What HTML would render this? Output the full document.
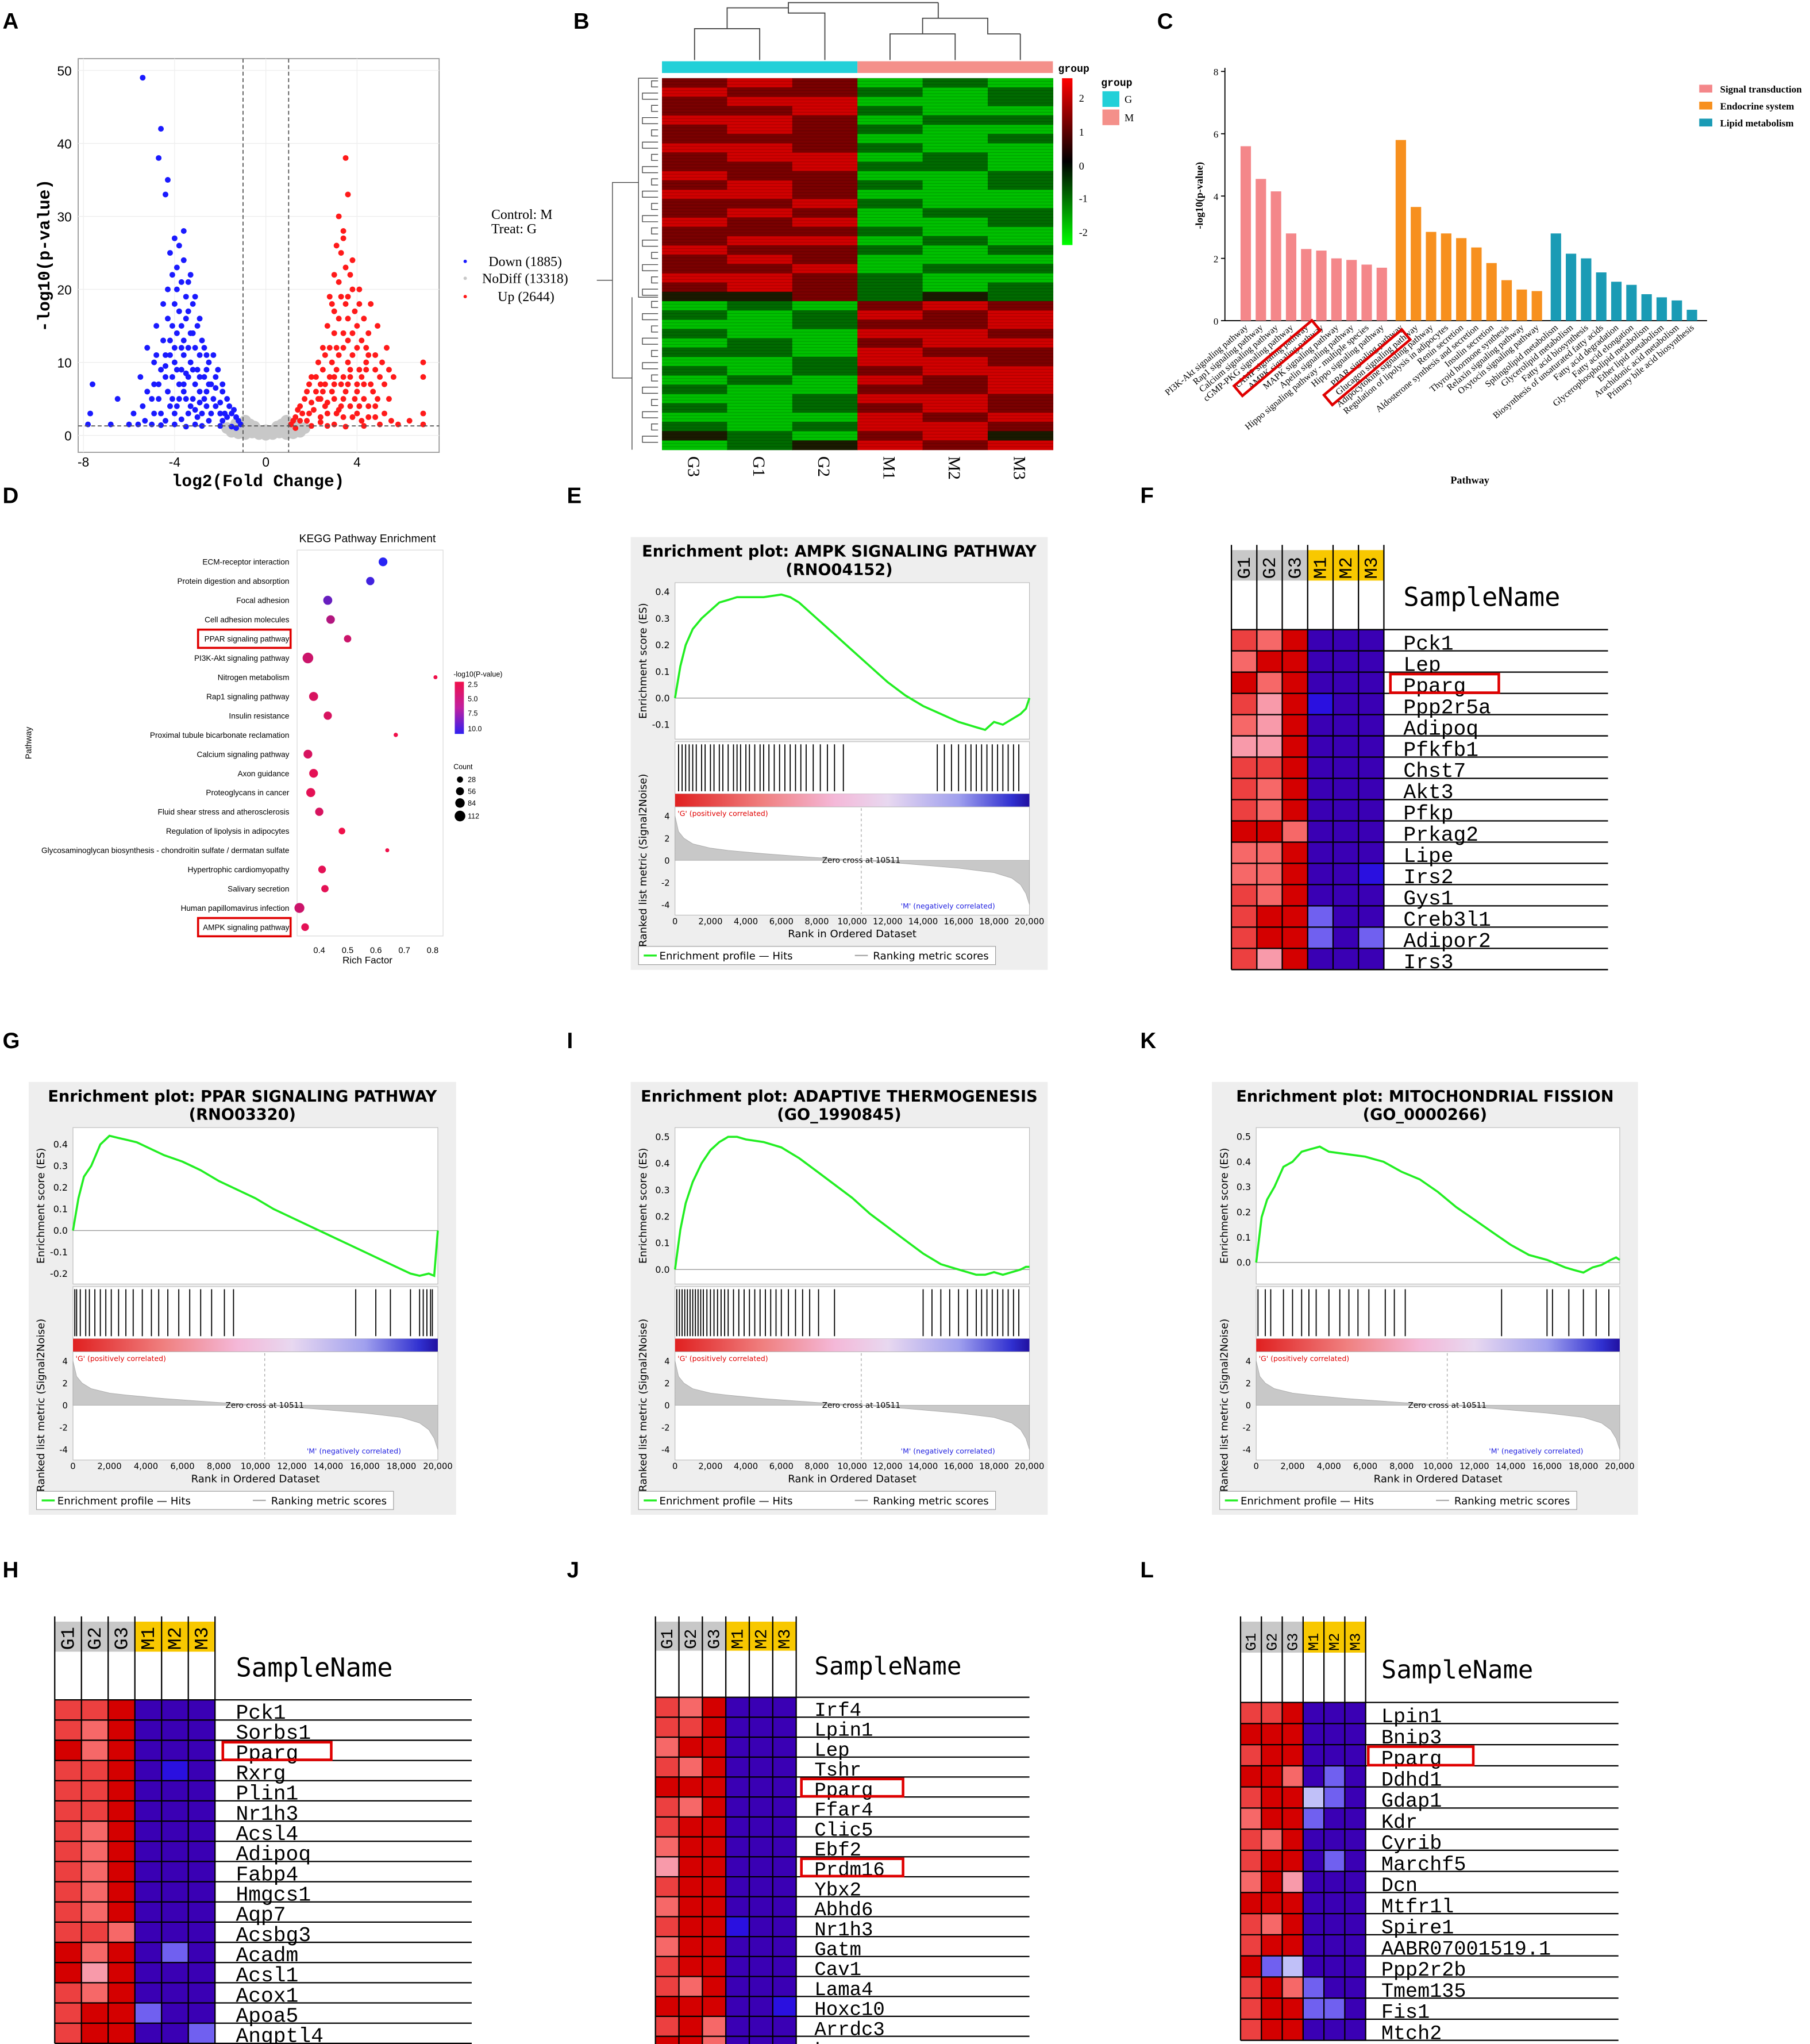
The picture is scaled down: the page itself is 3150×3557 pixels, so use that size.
<!DOCTYPE html>
<html><head><meta charset="utf-8"><title>Figure</title>
<style>html,body{margin:0;padding:0;background:#fff}svg{display:block}</style>
</head><body>
<svg id="fig" xmlns="http://www.w3.org/2000/svg" width="3150" height="3557" viewBox="0 0 1389 1568" preserveAspectRatio="none">
<defs>
<linearGradient id="gsbar" x1="0" x2="1" y1="0" y2="0">
<stop offset="0" stop-color="#e02020"/><stop offset="0.25" stop-color="#f08080"/><stop offset="0.45" stop-color="#f4b8d8"/><stop offset="0.6" stop-color="#e8d8f0"/><stop offset="0.8" stop-color="#a0a0ee"/><stop offset="0.95" stop-color="#3030d0"/><stop offset="1" stop-color="#2010a0"/></linearGradient>
<linearGradient id="hmleg" x1="0" x2="0" y1="0" y2="1"><stop offset="0" stop-color="#ff0000"/><stop offset="0.5" stop-color="#000000"/><stop offset="1" stop-color="#00ff00"/></linearGradient>
<linearGradient id="dleg" x1="0" x2="0" y1="0" y2="1"><stop offset="0" stop-color="#f0104a"/><stop offset="0.5" stop-color="#c020a0"/><stop offset="1" stop-color="#3020f0"/></linearGradient>
</defs>
</svg>
<script>
// ---------------- DATA ----------------
const volcDown=[[-5.4,49],[-4.6,42],[-4.7,38],[-4.3,35],[-4.4,33],[-4,27],[-4.2,25],[-3.8,26],[-4.1,22],[-3.6,24],[-3.4,21],[-3.9,20],[-3.2,18],[-4.5,18],[-3.5,16],[-3,15],[-4.8,15],[-2.8,13],[-3.7,12],[-4.2,13],[-5.2,12],[-2.5,10],[-3.3,10],[-4,10],[-4.6,9],[-5.5,8],[-2.2,8],[-2.9,8],[-3.6,7],[-4.3,6],[-5,5],[-1.9,6],[-2.6,6],[-3.2,5],[-3.9,4],[-4.6,3],[-5.8,3],[-1.6,4],[-2.2,4],[-2.8,3],[-3.4,3],[-1.3,2.5],[-1.9,2],[-2.5,2],[-3.1,1.5],[-4,1.5],[-1.1,1.5],[-1.5,1.2],[-6.5,5],[-7.6,7],[-7.7,3],[-7.8,1.5],[-6,1.5],[-5.3,2],[-3.5,19],[-3.8,17],[-3.1,12],[-4.4,11],[-2.6,11],[-3.3,14],[-3.9,14],[-2.4,7],[-3,9],[-3.7,9],[-2,3],[-2.7,5],[-3.5,5],[-4.2,4],[-4.9,7],[-1.7,2.5],
[-3.6,28],[-3.9,23],[-3.3,22],[-3.7,21],[-4.3,20],[-3.1,19],[-4,18],[-3.4,17],[-4.3,16],[-3.7,15],[-2.9,16],[-4.1,15],[-3.2,14],[-3.6,13],[-4.5,13],[-2.7,12],[-3.4,12],[-4,12],[-4.8,11],[-2.3,11],[-2.9,11],[-3.6,11],[-4.2,11],[-2.6,9],[-3.2,9],[-3.9,9],[-4.9,10],[-2.1,9],[-2.7,8],[-3.4,8],[-4.1,8],[-4.7,7],[-1.9,7],[-2.5,7],[-3.1,7],[-3.8,7],[-4.4,8],[-5.2,6],[-1.7,5],[-2.3,5],[-2.9,6],[-3.6,6],[-4.1,5],[-4.7,5],[-1.4,3.5],[-2,4.5],[-2.6,4],[-3.3,4],[-4,3],[-5.4,4],[-1.2,2],[-1.8,3],[-2.4,3],[-3,2.5],[-3.7,2.2],[-4.4,2],[-5,1.5],[-1.3,1],[-2,1.3],[-2.8,1.3],[-3.5,1.2],[-4.6,1.4],[-5.6,1.5],[-6.8,1.5],[-3.1,3.5],[-3.8,5],[-2.2,6.5],[-1.5,3],[-4.4,9.5],[-3.5,8.5],[-2.9,4.5],[-4.9,3]];
const volcUp=[[3.5,38],[3.2,30],[3.4,28],[3.3,25],[3.7,22],[3,22],[3.6,19],[2.9,18],[3.9,17],[4.3,16],[2.7,15],[3.4,14],[4.5,14],[4.9,15],[2.5,12],[3.1,12],[4,12],[4.8,11],[5.3,12],[2.3,10],[2.9,10],[3.6,10],[4.4,9],[5,8],[5.6,8],[2,8],[2.6,7],[3.3,7],[4,7],[4.7,6],[5.4,5],[1.8,6],[2.4,5],[3,5],[3.7,4],[4.5,4],[5.2,3],[1.5,4],[2.1,3.5],[2.7,3],[3.4,2.5],[4.2,2],[1.3,2.5],[1.8,2],[2.4,1.8],[3,1.5],[1.1,1.5],[6.9,10],[6.9,8],[6.9,3],[6.9,1.5],[6.3,2],[3.8,24],[4.1,20],[2.8,19],[4.6,18],[5.1,10],[3.2,16],[3.8,14],[2.2,6],[3,8],[3.7,8],[4.3,5],[2.6,4],[3.3,4],[4,3],[4.8,2.5],[1.6,3],
[3.6,33],[3.4,27],[3.1,26],[3.5,23],[3.2,21],[3.8,20],[3.3,19],[3.5,18],[4.1,18],[3,17],[3.6,16],[4,15],[3,14],[3.6,13],[4.2,13],[2.8,12],[3.4,12],[4.4,12],[2.6,11],[3.2,11],[3.8,11],[4.5,11],[2.5,9],[3.1,9],[3.7,9],[4.1,9],[4.8,9],[2.2,8],[2.8,8],[3.4,8],[4.2,8],[4.6,7],[1.9,7],[2.4,7],[3,7],[3.6,7],[4.3,7],[5.2,7],[1.7,5],[2.3,5],[2.9,6],[3.5,6],[4,6],[4.9,5],[1.4,3.5],[2,4.5],[2.7,4.5],[3.4,5],[4.1,4],[4.8,4],[1.2,2],[1.9,3],[2.4,2.5],[3.1,3],[3.8,2.5],[4.5,2.5],[5.5,2],[1.3,1],[2,1.3],[2.7,1.3],[3.5,1.2],[4.3,1.3],[5,1.5],[5.8,1.5],[3.2,3.5],[2.5,6],[3.9,5],[1.5,2],[4.4,10],[5.4,9]];
const volcNo=[[-1,0.6],[-0.6,0.4],[-0.3,0.2],[0,0.1],[0.3,0.2],[0.6,0.4],[1,0.6],[-0.8,1],[0.8,1],[-0.4,0.8],[0.4,0.8],[-1.2,0.3],[1.2,0.3],[-0.2,0.5],[0.2,0.5],[-0.9,0.2],[0.9,0.2],[-1.1,1.1],[1.1,1.1],[-0.7,1.5],[0.7,1.5],[-1.3,1.6],[1.3,1.6],[-0.5,1.2],[0.5,1.2],[0,0.7],[-1.5,0.5],[1.5,0.5],[-1.7,1],[1.7,1],[-0.9,2],[0.9,2]];

const hmBRows=["rRrGgG","RrrgGg","rRRGGg","rrRgGG","RRrGgg","rRrgGG","rrrGGg","RRrgGG","rRRGgG","rrRggG","RrrGGg","rRrgGg","RRrGGG","rrRgGG","rRrGgg","RrRGGg","rrrgGG","rRRGgG","RrrgGg","rRrGGG","rrRGgg","RRrgGG","rRrgGg","kkrgkg","GgGrRr","gGgRrR","GGgrrR","gGGRRr","GgGrRR","ggGRrr","GGgRRr","gGgrRR","GgGRrR","gGGrrR","GGgRRr","gGgrRr","GGGRrR","gGgRRr","kgGrRk","GgkRrR"];
const hmBCols=["G3","G1","G2","M1","M2","M3"];

const cPink=["PI3K-Akt signaling pathway","Rap1 signaling pathway","Calcium signaling pathway","cGMP-PKG signaling pathway","cAMP signaling pathway","AMPK signaling pathway","MAPK signaling pathway","Apelin signaling pathway","Hippo signaling pathway - multiple species","Hippo signaling pathway"];
const cOrange=["PPAR signaling pathway","Glucagon signaling pathway","Adipocytokine signaling pathway","Regulation of lipolysis in adipocytes","Renin secretion","Aldosterone synthesis and secretion","Insulin secretion","Thyroid hormone synthesis","Relaxin signaling pathway","Oxytocin signaling pathway"];
const cTeal=["Sphingolipid metabolism","Glycerolipid metabolism","Fatty acid biosynthesis","Biosynthesis of unsaturated fatty acids","Fatty acid degradation","Fatty acid elongation","Glycerophospholipid metabolism","Ether lipid metabolism","Arachidonic acid metabolism","Primary bile acid biosynthesis"];
const cPinkVals=[5.6,4.55,4.15,2.8,2.3,2.25,2.0,1.95,1.8,1.7];
const cOrangeVals=[5.8,3.65,2.85,2.8,2.65,2.35,1.85,1.3,1.0,0.95];
const cTealVals=[2.8,2.15,2.0,1.55,1.25,1.15,0.85,0.75,0.65,0.35];
const cTicks=[0,2,4,6,8];

const dPaths=["ECM-receptor interaction","Protein digestion and absorption","Focal adhesion","Cell adhesion molecules","PPAR signaling pathway","PI3K-Akt signaling pathway","Nitrogen metabolism","Rap1 signaling pathway","Insulin resistance","Proximal tubule bicarbonate reclamation","Calcium signaling pathway","Axon guidance","Proteoglycans in cancer","Fluid shear stress and atherosclerosis","Regulation of lipolysis in adipocytes","Glycosaminoglycan biosynthesis - chondroitin sulfate / dermatan sulfate","Hypertrophic cardiomyopathy","Salivary secretion","Human papillomavirus infection","AMPK signaling pathway"];
const dRich=[0.625,0.58,0.43,0.44,0.50,0.36,0.81,0.38,0.43,0.67,0.36,0.38,0.37,0.40,0.48,0.64,0.41,0.42,0.33,0.35];
const dLogP=[10.5,9.5,8,5,4,4,2.5,3.5,3.5,2.5,3.5,3,3,3.5,2.5,2.5,3,3,4,3];
const dCount=[70,60,75,65,45,112,8,75,60,10,70,70,75,60,35,8,50,45,95,50];
const dTicks=[0.4,0.5,0.6,0.7,0.8];

const gsRanks=[0,300,600,1000,1500,2000,2500,3000,3500,4000,5000,6000,6500,7000,8000,9000,10000,11000,12000,13000,14000,15000,16000,17000,17500,18000,18500,19000,19500,19800,20000];
const esE=[0,0.12,0.2,0.26,0.3,0.33,0.36,0.37,0.38,0.38,0.38,0.39,0.38,0.36,0.3,0.24,0.18,0.12,0.06,0.01,-0.03,-0.06,-0.09,-0.11,-0.12,-0.09,-0.1,-0.08,-0.06,-0.04,0];
const esG=[0,0.15,0.25,0.3,0.4,0.44,0.43,0.42,0.41,0.39,0.35,0.32,0.3,0.28,0.23,0.19,0.15,0.1,0.06,0.02,-0.02,-0.06,-0.1,-0.14,-0.16,-0.18,-0.2,-0.21,-0.2,-0.21,0];
const esI=[0,0.15,0.25,0.33,0.4,0.45,0.48,0.5,0.5,0.49,0.48,0.46,0.44,0.42,0.37,0.32,0.27,0.21,0.16,0.11,0.06,0.02,0,-0.02,-0.02,-0.01,-0.02,-0.01,0,0.01,0.01];
const esK=[0,0.18,0.25,0.3,0.38,0.4,0.44,0.45,0.46,0.44,0.43,0.42,0.41,0.4,0.36,0.33,0.28,0.22,0.17,0.12,0.07,0.03,0.01,-0.02,-0.03,-0.04,-0.02,-0.01,0.01,0.02,0.01];
const hitsE=[200,400,600,800,1000,1200,1500,1700,2000,2200,2500,2700,3000,3300,3500,3700,4000,4200,4500,4800,5000,5300,5600,5900,6200,6500,6800,7100,7400,7800,8200,8600,9000,9500,14800,15200,15600,16000,16400,16700,17000,17300,17600,17900,18200,18500,18800,19100,19400];
const hitsG=[100,200,400,700,900,1200,1500,1800,2100,2500,2900,3300,3800,4300,4700,5200,5800,6400,7000,7600,8300,8800,15500,16600,17400,18500,19000,19200,19400,19600,19700];
const hitsI=[100,250,400,550,700,850,1000,1150,1300,1450,1600,1800,2000,2200,2400,2600,2800,3000,3300,3600,3900,4200,4500,4800,5100,5400,5700,6000,6400,6800,7200,7600,8100,9000,14000,14500,15000,15500,16000,16500,17000,17300,17600,17900,18200,18500,18800,19100,19400];
const hitsK=[100,500,800,1500,2000,2500,2900,3300,4000,4600,5100,5600,6200,7100,7600,8200,13500,16000,16300,17200,18000,18700,19400];
const metricRanks=[0,200,500,1000,2000,3000,5000,8000,10511,13000,16000,18000,19000,19500,19800,20000];
const metricVals=[4,2.6,2,1.5,1.1,0.9,0.6,0.25,0,-0.3,-0.7,-1.1,-1.6,-2.2,-3,-4];
const rankTicks=[0,2000,4000,6000,8000,10000,12000,14000,16000,18000,20000];
const metricTicks=[4,2,0,-2,-4];

const genesF=["Pck1","Lep","Pparg","Ppp2r5a","Adipoq","Pfkfb1","Chst7","Akt3","Pfkp","Prkag2","Lipe","Irs2","Gys1","Creb3l1","Adipor2","Irs3"];
const matF=["rpRBBB","pRRBBB","RpRBBB","rqRbBB","pqRBBB","qqRBBB","rrRBBB","rpRBBB","rpRBBB","RRpBBB","ppRBBB","ppRBBb","rpRBBB","rRRvBB","rRRvBv","rqRBBB"];
const genesH=["Pck1","Sorbs1","Pparg","Rxrg","Plin1","Nr1h3","Acsl4","Adipoq","Fabp4","Hmgcs1","Aqp7","Acsbg3","Acadm","Acsl1","Acox1","Apoa5","Angptl4"];
const matH=["rrRBBB","rpRBBB","RpRBBB","rrRBbB","rrRBBB","rrRBBB","rpRBBB","rpRBBB","rpRBBB","rpRBBB","rpRBBB","rrpBBB","RpRBvB","RqRBBB","rpRBBB","rRRvBB","rRRBBv"];
const genesJ=["Irf4","Lpin1","Lep","Tshr","Pparg","Ffar4","Clic5","Ebf2","Prdm16","Ybx2","Abhd6","Nr1h3","Gatm","Cav1","Lama4","Hoxc10","Arrdc3","Lepr"];
const matJ=["rpRBBB","rrRBBB","pRRBBB","rpRBBB","RRRBBB","rpRBBB","rRRBBB","pRRBBB","qRRBBB","rRRBBB","pRRBBB","rRRbBB","pRRBBB","rRRBBB","rpRBBB","RRRBBb","rRpBBB","RRpBBB"];
const genesL=["Lpin1","Bnip3","Pparg","Ddhd1","Gdap1","Kdr","Cyrib","Marchf5","Dcn","Mtfr1l","Spire1","AABR07001519.1","Ppp2r2b","Tmem135","Fis1","Mtch2"];
const matL=["rrRBBB","RRRBBB","rRRBBB","RRpBvB","rRRwvB","pRRvBB","rpRBBB","rRRBvB","pRqBBB","RRRBBB","rpRBBB","rRRBBB","RvwBBB","rRpvBB","rRRvvB","rRRBBB"];

// ---------------- HELPERS ----------------
const NS='http://www.w3.org/2000/svg';
const svg=document.getElementById('fig');
function mk(tag,attrs,parent){const e=document.createElementNS(NS,tag);for(const k in attrs)e.setAttribute(k,attrs[k]);(parent||svg).appendChild(e);return e;}
function tx(x,y,s,size,extra,parent){const a=Object.assign({x:x,y:y,'font-size':size,'font-family':'"Liberation Sans", sans-serif',fill:'#000'},extra||{});const e=mk('text',a,parent);e.textContent=s;return e;}
function grp(name){const g=mk('g',{});
return g;}

const letters=[["A",2,22],["B",440,22],["C",888,22],["D",2,386],["E",435,386],["F",875,386],["G",2,804],["I",435,804],["K",875,804],["H",2,1210],["J",435,1210],["L",875,1210]];
for(const l of letters){const t=tx(l[1],l[2],l[0],17,{'font-weight':'bold'});

}

// ---------------- PANEL A: volcano ----------------
(function(){
const g=grp('volcano-plot');
const xs=v=>204+v*17.5, ys=v=>334-v*5.6;
const bg=mk('rect',{x:60,y:45,width:277,height:302,fill:'#fff',stroke:'#999','stroke-width':0.8},g);


for(const v of [-8,-4,0,4]){const l=mk('line',{x1:xs(v),x2:xs(v),y1:45,y2:347,stroke:'#eee','stroke-width':0.6},g);


const t=tx(xs(v),358,String(v),10,{'text-anchor':'middle'},g);

}
for(const v of [0,10,20,30,40,50]){const l=mk('line',{x1:60,x2:337,y1:ys(v),y2:ys(v),stroke:'#eee','stroke-width':0.6},g);


const t=tx(55,ys(v)+4,String(v),10,{'text-anchor':'end'},g);

}
for(const p of volcNo){const c=mk('circle',{cx:xs(p[0]),cy:ys(p[1]),r:4.5,fill:'#c8c8c8'},g);

}
for(const p of volcDown){const c=mk('circle',{cx:xs(p[0]),cy:ys(p[1]),r:2.2,fill:'#1a1aff'},g);

}
for(const p of volcUp){const c=mk('circle',{cx:xs(p[0]),cy:ys(p[1]),r:2.2,fill:'#ff1a1a'},g);

}
for(const v of [-1,1]){const l=mk('line',{x1:xs(v),x2:xs(v),y1:45,y2:347,stroke:'#555','stroke-width':0.8,'stroke-dasharray':'3,2'},g);

}
const h=mk('line',{x1:60,x2:337,y1:ys(1.3),y2:ys(1.3),stroke:'#555','stroke-width':0.8,'stroke-dasharray':'3,2'},g);


const xt=tx(198,373,'log2(Fold Change)',13,{'text-anchor':'middle','font-family':'"Liberation Mono", monospace','font-weight':'bold'},g);


const yt=tx(0,0,'-log10(p-value)',13,{'text-anchor':'middle','font-family':'"Liberation Mono", monospace','font-weight':'bold',transform:'translate(38,196) rotate(-90)'},g);


const sf={'font-family':'"Liberation Serif", serif'};
const t1=tx(377,168,'Control: M',10.5,sf,g);


const t2=tx(377,179,'Treat:   G',10.5,sf,g);


const leg=[['Down (1885)','#1a1aff',375,204],['NoDiff (13318)','#c8c8c8',370,217],['Up (2644)','#ff1a1a',382,231]];
for(const L of leg){const c=mk('circle',{cx:357,cy:L[3]-3.5,r:1.3,fill:L[1]},g);


const t=tx(L[2],L[3],L[0],10.5,sf,g);

}
})();

// ---------------- PANEL B: heatmap ----------------
(function(){
const g=grp('cluster-heatmap');
const colMap={R:'#d00000',r:'#7a0000',k:'#1a1a00',g:'#006a00',G:'#00c000'};
const x0=508,y0=60,cw=50,rh=285/hmBRows.length;
hmBRows.forEach((row,i)=>{for(let j=0;j<6;j++){const r=mk('rect',{x:x0+j*cw,y:y0+i*rh,width:cw+0.3,height:rh+0.3,fill:colMap[row[j]]},g);

}});
for(let i=0;i<hmBRows.length*3;i++){const s=mk('line',{x1:x0,x2:x0+300,y1:y0+i*rh/3,y2:y0+i*rh/3,stroke:'#000','stroke-opacity':0.18,'stroke-width':0.5},g);

}
const a1=mk('rect',{x:508,y:47,width:150,height:9,fill:'#22d0d8'},g);


const a2=mk('rect',{x:658,y:47,width:150,height:9,fill:'#f4908a'},g);


const gt=tx(812,55,'group',8,{'font-family':'"Liberation Mono", monospace','font-weight':'bold'},g);


const td=mk('path',{d:'M533,46 V22 H583 V46 M558,22 V6 H605 M583,30 V46 M633,46 V10 H605 V6 M605,6 V2 H720 M683,46 V26 H733 V46 M783,46 V26 M708,26 V14 H758 V26 H783 M733,26 H708 M720,2 V14',fill:'none',stroke:'#444','stroke-width':0.8},g);


let d='M505,60 H490 V228 H505 M490,140 H470 V290 H485 V228 M485,345 V290 M470,215 H458 V215 ';
for(let i=0;i<30;i++){const y=62+i*9.4;const w=5+(i*7)%14;d+='M505,'+y.toFixed(1)+' H'+(505-w)+' V'+(y+4.7).toFixed(1)+' H505 ';}
const ld=mk('path',{d:d,fill:'none',stroke:'#444','stroke-width':0.6},g);


hmBCols.forEach((c,j)=>{const t=tx(0,0,c,13,{'font-family':'"Liberation Serif", serif',transform:'translate('+(x0+j*cw+cw/2-5)+',350) rotate(90)'},g);

});
const lg=mk('rect',{x:815,y:60,width:8,height:128,fill:'url(#hmleg)'},g);


[['2',78],['1',104],['0',130],['-1',155],['-2',181]].forEach(v=>{const t=tx(828,v[1],v[0],8,{'font-family':'"Liberation Serif", serif'},g);

});
const gl=tx(845,66,'group',8,{'font-family':'"Liberation Mono", monospace','font-weight':'bold'},g);


[['G','#22d0d8',70],['M','#f4908a',84]].forEach(v=>{const r=mk('rect',{x:846,y:v[2],width:13,height:12,fill:v[1]},g);


const t=tx(863,v[2]+9,v[0],8,{'font-family':'"Liberation Serif", serif'},g);

});
})();

// ---------------- PANEL C: bar chart ----------------
(function(){
const g=grp('pathway-bar-chart');
const ys=v=>246-v*23.9;
const ax=mk('path',{d:'M940,52 V246 H1310',fill:'none',stroke:'#000','stroke-width':0.8},g);


for(const v of cTicks){const t=tx(935,ys(v)+3,String(v),7.5,{'text-anchor':'end','font-family':'"Liberation Serif", serif'},g);


const l=mk('line',{x1:937,x2:940,y1:ys(v),y2:ys(v),stroke:'#000','stroke-width':0.8},g);

}
const groups=[[cPink,cPinkVals,'#f4878a',952],[cOrange,cOrangeVals,'#f7901e',1071],[cTeal,cTealVals,'#1a9bb5',1190]];
for(const G of groups){G[0].forEach((name,i)=>{const x=G[3]+i*11.6;const b=mk('rect',{x:x,y:ys(G[1][i]),width:8,height:G[1][i]*23.9,fill:G[2]},g);


const t=tx(0,0,name,7,{'text-anchor':'end','font-family':'"Liberation Serif", serif',transform:'translate('+(x+6)+',252) rotate(-40)'},g);

});}
const b1=mk('rect',{x:0,y:0,width:78,height:10,fill:'none',stroke:'#e00000','stroke-width':2,transform:'translate(947,296) rotate(-40)'},g);


const b2=mk('rect',{x:0,y:0,width:78,height:10,fill:'none',stroke:'#e00000','stroke-width':2,transform:'translate(1016,303) rotate(-40)'},g);


const yt=tx(0,0,'-log10(p-value)',8,{'text-anchor':'middle','font-weight':'bold','font-family':'"Liberation Serif", serif',transform:'translate(923,150) rotate(-90)'},g);


const xt=tx(1128,371,'Pathway',8,{'text-anchor':'middle','font-weight':'bold','font-family':'"Liberation Serif", serif'},g);


[['Signal transduction','#f4878a',70],['Endocrine system','#f7901e',83],['Lipid metabolism','#1a9bb5',96]].forEach(v=>{const r=mk('rect',{x:1304,y:v[2]-5,width:10,height:6,fill:v[1]},g);


const t=tx(1320,v[2]+1,v[0],7.5,{'font-weight':'bold','font-family':'"Liberation Serif", serif'},g);

});
})();

// ---------------- PANEL D: dot plot ----------------
(function(){
const g=grp('kegg-dot-plot');
const xs=v=>245+(v-0.4)*217.5, ys=i=>431+i*14.75;
const box=mk('rect',{x:228,y:422,width:112,height:296,fill:'#fff',stroke:'#ddd','stroke-width':0.6},g);


const tt=tx(282,416,'KEGG Pathway Enrichment',8.5,{'text-anchor':'middle'},g);


function col(p){const t=Math.min(1,Math.max(0,(p-2.5)/8));const r=Math.round(240-t*200),gg=Math.round(16+t*20),b=Math.round(74+t*170);return 'rgb('+r+','+gg+','+b+')';}
dPaths.forEach((p,i)=>{const t=tx(222,ys(i)+2.2,p,6,{'text-anchor':'end'},g);


const c=mk('circle',{cx:xs(dRich[i]),cy:ys(i),r:Math.sqrt(dCount[i])*0.33+0.6,fill:col(dLogP[i])},g);

});
for(const v of dTicks){const t=tx(xs(v),731,String(v),6.5,{'text-anchor':'middle'},g);

}
const xt=tx(282,739,'Rich Factor',7.5,{'text-anchor':'middle'},g);


const yt=tx(0,0,'Pathway',6.5,{'text-anchor':'middle',transform:'translate(24,570) rotate(-90)'},g);


[4,19].forEach(i=>{const r=mk('rect',{x:152,y:ys(i)-7,width:71,height:14,fill:'none',stroke:'#e00000','stroke-width':1.6},g);

});
const lt=tx(348,519,'-log10(P-value)',5.5,{},g);


const lb=mk('rect',{x:349,y:523,width:7,height:40,fill:'url(#dleg)'},g);


[['2.5',527],['5.0',538],['7.5',549],['10.0',561]].forEach(v=>{const t=tx(359,v[1],v[0],5.5,{},g);

});
const ct=tx(348,590,'Count',5.5,{},g);


[[28,598],[56,607],[84,616],[112,626]].forEach(v=>{const c=mk('circle',{cx:353,cy:v[1],r:Math.sqrt(v[0])*0.33+0.6,fill:'#000'},g);


const t=tx(359,v[1]+2,String(v[0]),5.5,{},g);

});
})();

// ---------------- GSEA PANELS ----------------
function gsea(ox,oy,w,title1,title2,es,hits,ymax,ymin,esTicks,name){
const g=grp(name);
const px0=ox+34, pw=w-48;
const xs=r=>px0+r/20000*pw;
const ys=v=>oy+38+(ymax-v)/(ymax-ymin)*114;
const ms=v=>oy+248-v*8.5;
const bg=mk('rect',{x:ox,y:oy,width:w,height:332,fill:'#eeeeee'},g);


const t1=tx(ox+w/2,oy+15,title1,12,{'text-anchor':'middle','font-weight':'bold','font-family':'"DejaVu Sans", sans-serif'},g);


const t2=tx(ox+w/2,oy+29,title2,12,{'text-anchor':'middle','font-weight':'bold','font-family':'"DejaVu Sans", sans-serif'},g);


const r1=mk('rect',{x:px0,y:oy+35,width:pw,height:120,fill:'#fff',stroke:'#bbb','stroke-width':0.5},g);


const r2=mk('rect',{x:px0,y:oy+157,width:pw,height:40,fill:'#fff',stroke:'#bbb','stroke-width':0.5},g);


const r3=mk('rect',{x:px0,y:oy+197,width:pw,height:10,fill:'url(#gsbar)'},g);


const r4=mk('rect',{x:px0,y:oy+207,width:pw,height:83,fill:'#fff',stroke:'#bbb','stroke-width':0.5},g);


for(const v of esTicks){const t=tx(px0-4,ys(v)+2.5,v.toFixed(1),7,{'text-anchor':'end','font-family':'"DejaVu Sans", sans-serif'},g);

}
const z=mk('line',{x1:px0,x2:px0+pw,y1:ys(0),y2:ys(0),stroke:'#999','stroke-width':0.6},g);


let d='';es.forEach((v,i)=>{d+=(i?'L':'M')+xs(gsRanks[i]).toFixed(1)+','+ys(v).toFixed(1);});
const curve=mk('path',{d:d,fill:'none',stroke:'#22ee22','stroke-width':1.6},g);


for(const h of hits){const l=mk('line',{x1:xs(h),x2:xs(h),y1:oy+159,y2:oy+195,stroke:'#000','stroke-width':0.8},g);

}
let md='M'+xs(0)+','+ms(0);metricVals.forEach((v,i)=>{md+='L'+xs(metricRanks[i]).toFixed(1)+','+ms(v).toFixed(1);});md+='L'+xs(20000)+','+ms(0)+'Z';
const area=mk('path',{d:md,fill:'#c8c8c8',stroke:'#aaa','stroke-width':0.4},g);


const zc=mk('line',{x1:xs(10511),x2:xs(10511),y1:oy+208,y2:oy+289,stroke:'#999','stroke-width':0.5,'stroke-dasharray':'2,2'},g);


const zt=tx(xs(10511),oy+250,'Zero cross at 10511',6,{'text-anchor':'middle','font-family':'"DejaVu Sans", sans-serif'},g);


const pg=tx(px0+2,oy+214,"'G' (positively correlated)",5.5,{fill:'#e00000','font-family':'"DejaVu Sans", sans-serif'},g);


const nm2=tx(xs(15400),oy+285,"'M' (negatively correlated)",5.5,{fill:'#2020e0','text-anchor':'middle','font-family':'"DejaVu Sans", sans-serif'},g);


for(const v of metricTicks){const t=tx(px0-4,ms(v)+2.5,String(v),6.5,{'text-anchor':'end','font-family':'"DejaVu Sans", sans-serif'},g);

}
for(const r of rankTicks){const t=tx(xs(r),oy+297,r.toLocaleString('en-US'),6.5,{'text-anchor':'middle','font-family':'"DejaVu Sans", sans-serif'},g);

}
const xt=tx(px0+pw/2,oy+307,'Rank in Ordered Dataset',8,{'text-anchor':'middle','font-family':'"DejaVu Sans", sans-serif'},g);


const y1=tx(0,0,'Enrichment score (ES)',8,{'text-anchor':'middle','font-family':'"DejaVu Sans", sans-serif',transform:'translate('+(ox+12)+','+(oy+95)+') rotate(-90)'},g);


const y2=tx(0,0,'Ranked list metric (Signal2Noise)',8,{'text-anchor':'middle','font-family':'"DejaVu Sans", sans-serif',transform:'translate('+(ox+12)+','+(oy+248)+') rotate(-90)'},g);


const lb=mk('rect',{x:ox+6,y:oy+314,width:274,height:14,fill:'#fff',stroke:'#999','stroke-width':0.5},g);


const ll=mk('line',{x1:ox+10,x2:ox+20,y1:oy+321,y2:oy+321,stroke:'#22ee22','stroke-width':1.5},g);


const lt=tx(ox+22,oy+324,'Enrichment profile \u2014 Hits',8,{'font-family':'"DejaVu Sans", sans-serif'},g);


const ll2=mk('line',{x1:ox+172,x2:ox+182,y1:oy+321,y2:oy+321,stroke:'#aaa','stroke-width':1},g);


const lt2=tx(ox+186,oy+324,'Ranking metric scores',8,{'font-family':'"DejaVu Sans", sans-serif'},g);


}
gsea(484,412,320,'Enrichment plot: AMPK SIGNALING PATHWAY','(RNO04152)',esE,hitsE,0.42,-0.14,[0.4,0.3,0.2,0.1,0.0,-0.1],'gsea-ampk');
gsea(22,830,328,'Enrichment plot: PPAR SIGNALING PATHWAY','(RNO03320)',esG,hitsG,0.46,-0.23,[0.4,0.3,0.2,0.1,0.0,-0.1,-0.2],'gsea-ppar');
gsea(484,830,320,'Enrichment plot: ADAPTIVE THERMOGENESIS','(GO_1990845)',esI,hitsI,0.52,-0.04,[0.5,0.4,0.3,0.2,0.1,0.0],'gsea-thermogenesis');
gsea(930,830,327,'Enrichment plot: MITOCHONDRIAL FISSION','(GO_0000266)',esK,hitsK,0.52,-0.07,[0.5,0.4,0.3,0.2,0.1,0.0],'gsea-mito-fission');

// ---------------- EXPRESSION HEATMAPS ----------------
function exprHm(x0,y0,cw,hh,rh,genes,mat,tx0,lineEnd,boxes,name,fs){
const g=grp(name);
const cm={R:'#d40000',r:'#ec4040',p:'#f66868',q:'#f89aaa',B:'#3a00b4',b:'#2a10e0',v:'#7060f0',w:'#c0c0f8'};
const labels=['G1','G2','G3','M1','M2','M3'];
labels.forEach((l,j)=>{const r=mk('rect',{x:x0+j*cw,y:y0+4,width:cw,height:hh*0.36,fill:j<3?'#c8c8c8':'#f8c800'},g);


const t=tx(0,0,l,cw*0.72,{'font-family':'"Liberation Mono", monospace',transform:'translate('+(x0+j*cw+cw*0.72)+','+(y0+4+hh*0.34)+') rotate(-90)'},g);

});
const yr=y0+hh;
genes.forEach((gn,i)=>{for(let j=0;j<6;j++){const c=mk('rect',{x:x0+j*cw,y:yr+i*rh,width:cw,height:rh,fill:cm[mat[i][j]]},g);

}
const t=tx(tx0,yr+(i+1)*rh-1,gn,fs,{'font-family':'"Liberation Mono", monospace'},g);

});
const nrows=genes.length;
for(let i=0;i<=nrows;i++){const l=mk('line',{x1:x0,x2:lineEnd,y1:yr+i*rh,y2:yr+i*rh,stroke:'#000','stroke-width':1},g);

}
for(let j=0;j<=6;j++){const l=mk('line',{x1:x0+j*cw,x2:x0+j*cw,y1:y0,y2:Math.min(1568,yr+nrows*rh),stroke:'#000','stroke-width':1},g);

}
const sn=tx(tx0,y0+hh*0.72,'SampleName',fs*1.25,{'font-family':'"DejaVu Sans Mono", "Liberation Mono", monospace'},g);


for(const bi of boxes){const b=mk('rect',{x:tx0-10,y:yr+bi*rh+1.5,width:fs*5.2,height:rh-2,fill:'none',stroke:'#e00000','stroke-width':2},g);

}
}
exprHm(945,418,19.5,65,16.3,genesF,matF,1077,1234,[2],'heatmap-ampk-genes',16);
exprHm(42,1240,20.5,64,15.5,genesH,matH,181,362,[2],'heatmap-ppar-genes',16);
exprHm(503,1240,18,62,15.3,genesJ,matJ,625,790,[4,8],'heatmap-thermogenesis-genes',15);
exprHm(952,1240,16,66,16.2,genesL,matL,1060,1242,[2],'heatmap-mito-fission-genes',15.5);
</script>
</body></html>
